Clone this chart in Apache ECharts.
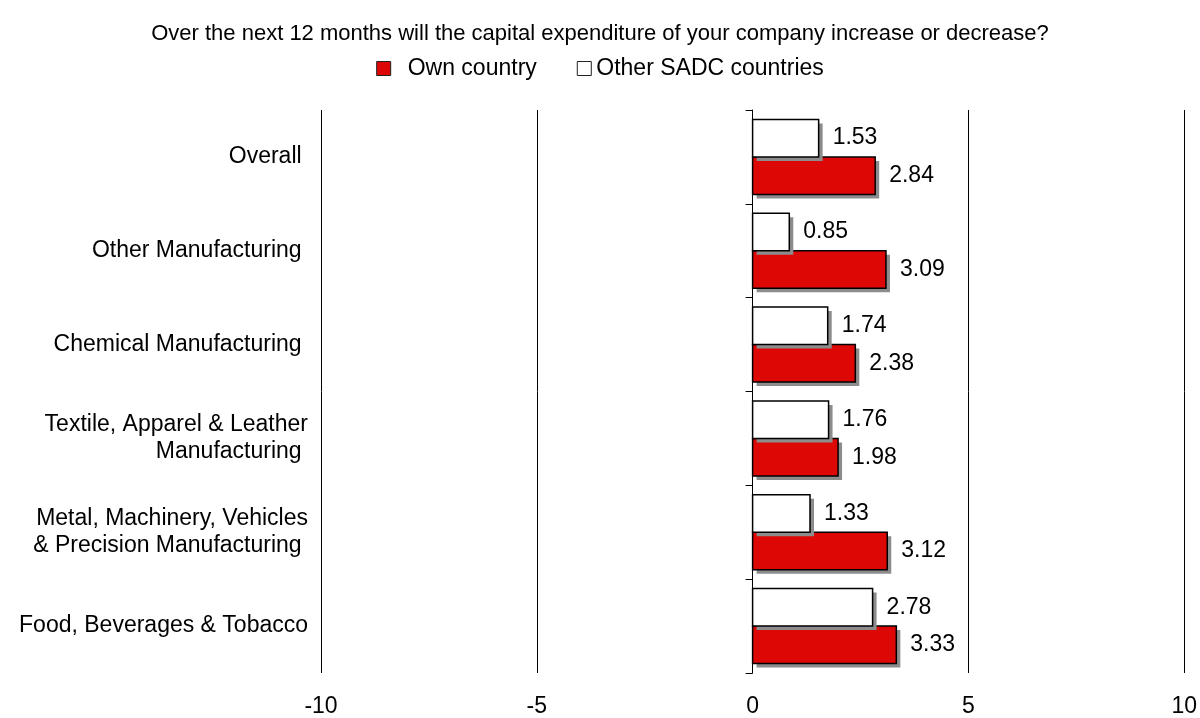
<!DOCTYPE html>
<html>
<head>
<meta charset="utf-8">
<script src="https://cdn.jsdelivr.net/npm/echarts@6/dist/echarts.min.js"></script>
<style>
  html, body { margin: 0; padding: 0; background: #fff; }
  #chart { width: 1200px; height: 718px; }
</style>
</head>
<body>
<div id="chart"></div>
<script>
// Sector categories, listed top to bottom
const categories = [
  'Overall ',
  'Other Manufacturing ',
  'Chemical Manufacturing ',
  'Textile, Apparel & Leather\nManufacturing ',
  'Metal, Machinery, Vehicles\n& Precision Manufacturing ',
  'Food, Beverages & Tobacco'
];
const ownCountry = [2.84, 3.09, 2.38, 1.98, 3.12, 3.33];
const otherSADC = [1.53, 0.85, 1.74, 1.76, 1.33, 2.78];
const xTicks = [-10, -5, 0, 5, 10];

const FONT = '"Liberation Sans", Arial, sans-serif';
const RED = '#dd0806';
const SHADOW = '#8c8c8c';

const chart = echarts.init(document.getElementById('chart'), null, { renderer: 'canvas' });

// Bars with a hard drop shadow; `side` is -1 for the upper bar of a pair, +1 for the lower one.
function makeBarRenderer(fill, side) {
  return function (params, api) {
    const value = api.value(0);
    const cat = api.value(1);
    const start = api.coord([0, cat]);
    const end = api.coord([value, cat]);
    const band = api.size([0, 1])[1];
    const h = band * 0.4;
    const y = side < 0 ? start[1] - h : start[1];
    const x = Math.min(start[0], end[0]);
    const w = Math.abs(end[0] - start[0]);
    return {
      type: 'group',
      children: [
        { type: 'rect', shape: { x: x + 4, y: y + 4, width: w, height: h },
          style: { fill: SHADOW } },
        { type: 'rect', shape: { x: x, y: y, width: w, height: h },
          style: { fill: fill, stroke: '#000', lineWidth: 1.5 } },
        { type: 'text', x: end[0] + 14, y: y + h / 2,
          style: { text: value.toFixed(2), fill: '#000', font: '23px ' + FONT,
                   textAlign: 'left', textVerticalAlign: 'middle' } }
      ]
    };
  };
}

const toPairs = (arr) => arr.map((v, i) => [v, i]);

chart.setOption({
  animation: false,
  backgroundColor: '#fff',
  title: {
    text: 'Over the next 12 months will the capital expenditure of your company increase or decrease?',
    left: 'center',
    top: 18,
    textStyle: { fontFamily: FONT, fontSize: 22, fontWeight: 'normal', color: '#000' }
  },
  legend: {
    top: 52,
    left: 'center',
    itemWidth: 14,
    itemHeight: 14,
    itemGap: 40,
    textStyle: { fontFamily: FONT, fontSize: 23, color: '#000' },
    data: [
      { name: 'Own country', icon: 'rect',
        itemStyle: { color: RED, borderColor: '#222', borderWidth: 1 },
        textStyle: { padding: [0, 0, 0, 12] } },
      { name: 'Other SADC countries', icon: 'rect',
        itemStyle: { color: '#fff', borderColor: '#222', borderWidth: 1 } }
    ]
  },
  grid: { left: 321, right: 14, top: 110, bottom: 42, containLabel: false },
  xAxis: {
    type: 'value',
    min: xTicks[0],
    max: xTicks[xTicks.length - 1],
    interval: 5,
    axisLine: { show: false },
    axisTick: { show: false },
    axisLabel: { fontFamily: FONT, fontSize: 23, color: '#000', margin: 22 },
    splitLine: { show: true, lineStyle: { color: '#000', width: 1 } }
  },
  yAxis: [
    {
      type: 'category',
      data: categories,
      inverse: true,
      position: 'left',
      axisLine: { show: false, onZero: false },
      axisTick: { show: false },
      axisLabel: {
        fontFamily: FONT, fontSize: 23, color: '#000',
        margin: 13, lineHeight: 27, align: 'right'
      }
    },
    {
      type: 'category',
      data: categories,
      inverse: true,
      position: 'left',
      axisLine: { show: true, onZero: true, lineStyle: { color: '#000', width: 1 } },
      axisTick: { show: true, length: 7, lineStyle: { color: '#000' } },
      axisLabel: { show: false }
    }
  ],
  series: [
    {
      name: 'Own country',
      type: 'custom',
      data: toPairs(ownCountry),
      encode: { x: 0, y: 1 },
      itemStyle: { color: RED },
      renderItem: makeBarRenderer(RED, 1)
    },
    {
      name: 'Other SADC countries',
      type: 'custom',
      data: toPairs(otherSADC),
      encode: { x: 0, y: 1 },
      itemStyle: { color: '#fff' },
      renderItem: makeBarRenderer('#ffffff', -1)
    }
  ]
});
</script>
</body>
</html>
